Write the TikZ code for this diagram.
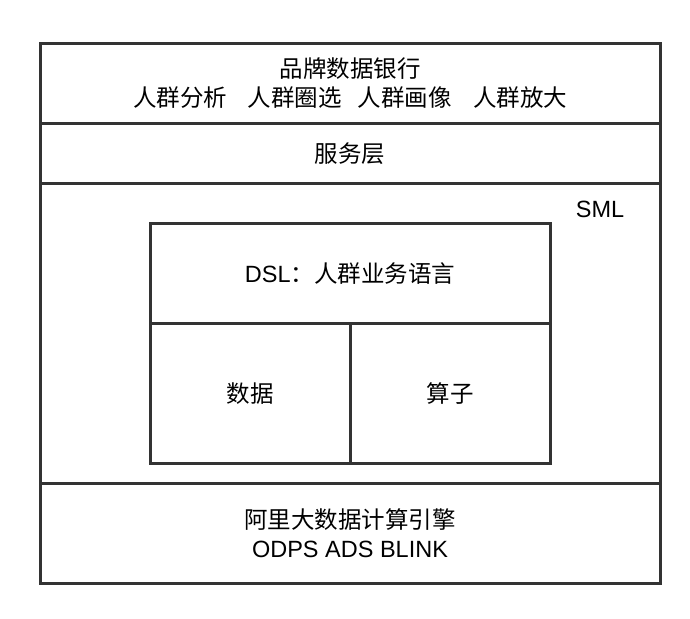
\documentclass[tikz,border=0pt]{standalone}
\usepackage{fontspec}
\setmainfont{Liberation Sans}
\newfontfamily\cjk{Noto Sans CJK SC}
\definecolor{linegray}{HTML}{333333}
\begin{document}
\begin{tikzpicture}[x=1pt,y=-1pt,
  box/.style={draw=linegray, line width=3pt, inner sep=0pt, outer sep=0pt,
    anchor=north west, align=center, font=\fontsize{23.5}{30}\selectfont},
  label/.style={inner sep=0pt, font=\fontsize{23.5}{30}\selectfont}]
\useasboundingbox (0,0) rectangle (690,618);
\node[box, minimum width=620pt, minimum height=80pt] (brand) at (40,43.5)
  {\cjk 品牌数据银行\\[-1pt]\cjk 人群分析\hspace{21pt}人群圈选\hspace{16pt}人群画像\hspace{21pt}人群放大};
\node[box, minimum width=620pt, minimum height=60pt] (service) at (40,123.5) {\cjk 服务层};
\node[box, minimum width=620pt, minimum height=300pt] (sml) at (40,183.5) {};
\node[label] (smltext) at (600,209) {SML};
\node[box, minimum width=620pt, minimum height=100pt, font=\fontsize{23.5}{29}\selectfont] (engine) at (40,483.5)
  {\cjk 阿里大数据计算引擎\\ODPS ADS BLINK};
\node[box, minimum width=400pt, minimum height=100pt] (dsl) at (150,223.5) {DSL{\cjk ：人群业务语言}};
\node[box, minimum width=200pt, minimum height=140pt] (data) at (150,323.5) {\cjk 数据};
\node[box, minimum width=200pt, minimum height=140pt] (op) at (350,323.5) {\cjk 算子};
\end{tikzpicture}
\end{document}
